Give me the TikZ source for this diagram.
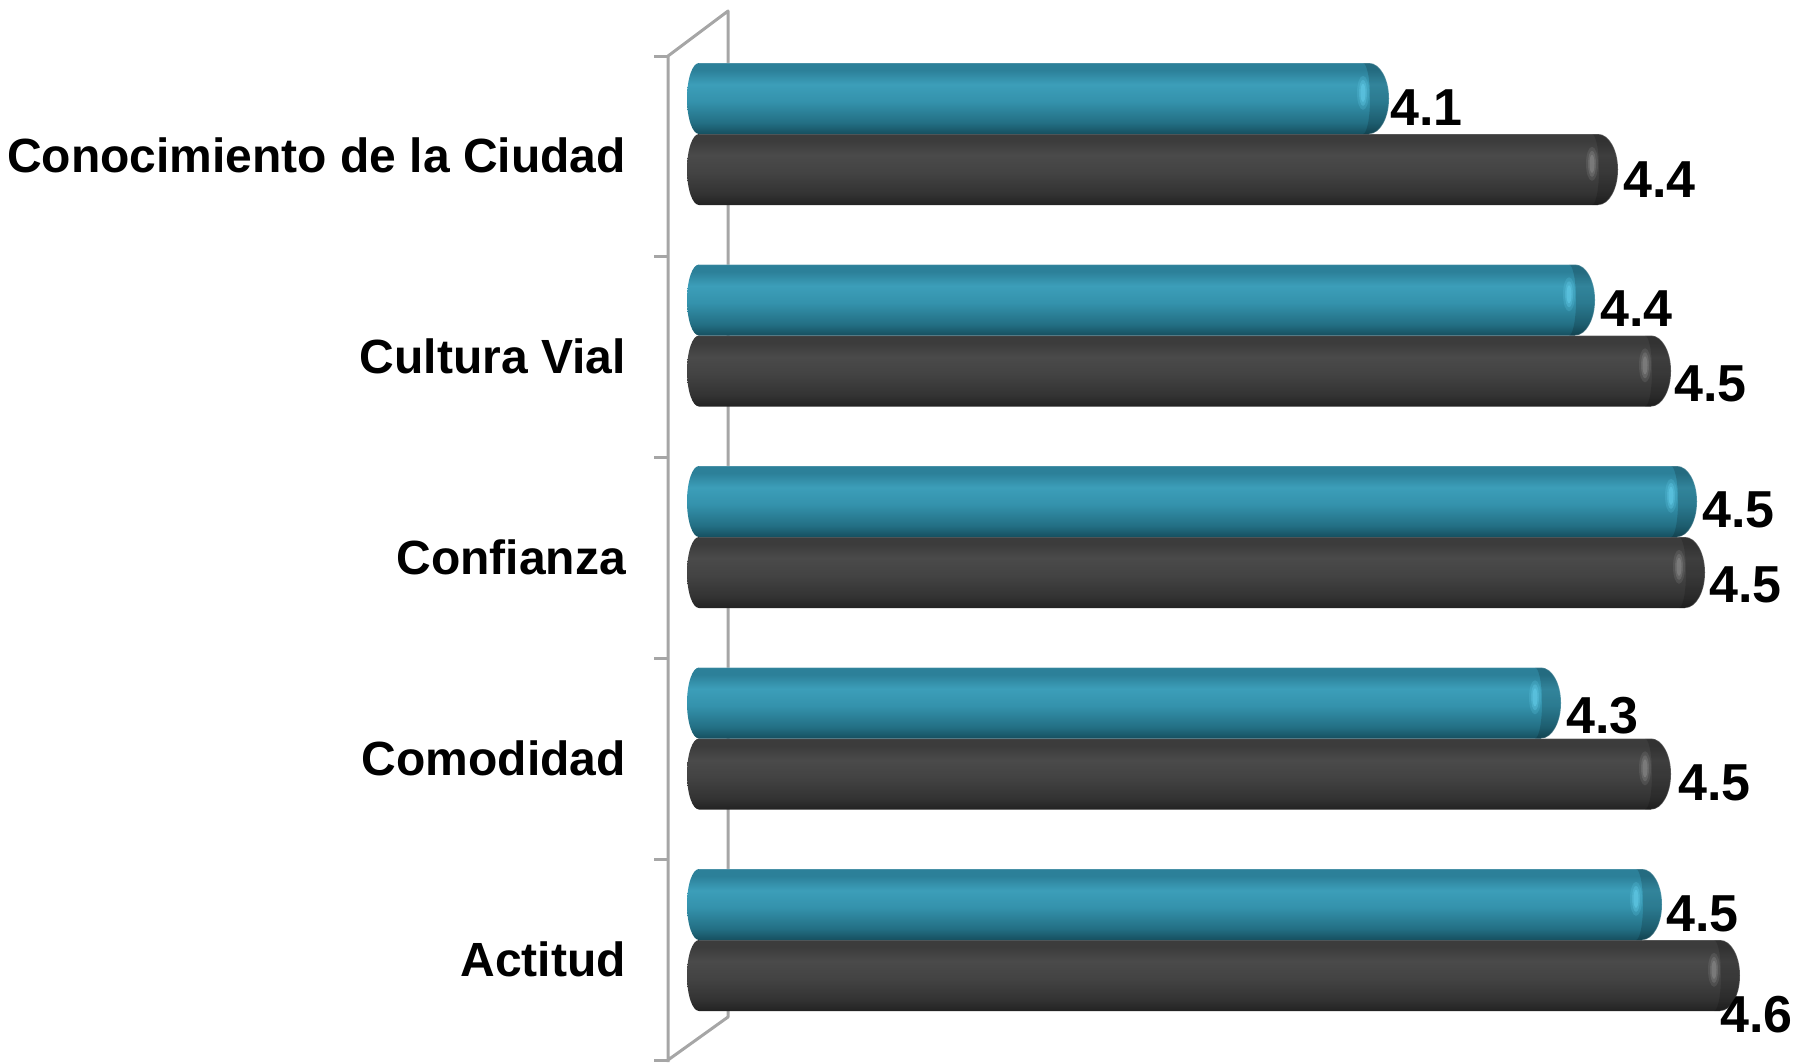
\documentclass[tikz,border=0pt]{standalone}
\usepackage{fontspec}
\setmainfont{Liberation Sans}
\definecolor{axisgray}{HTML}{A6A6A6}
\definecolor{tT}{HTML}{2C8099}
\definecolor{tL}{HTML}{3C9EB9}
\definecolor{tM}{HTML}{3492AC}
\definecolor{tD}{HTML}{236F84}
\definecolor{tB}{HTML}{164F5F}
\definecolor{tH}{HTML}{62CBE8}
\definecolor{dT}{HTML}{3C3C3C}
\definecolor{dL}{HTML}{4A4A4A}
\definecolor{dM}{HTML}{434343}
\definecolor{dD}{HTML}{333333}
\definecolor{dB}{HTML}{222222}
\definecolor{dH}{HTML}{8A8A8A}
\pgfdeclareverticalshading{tealbar}{100bp}{color(0bp)=(tB); color(25bp)=(tB); color(33bp)=(tD); color(48bp)=(tM); color(60bp)=(tL); color(70bp)=(tT); color(75bp)=(tT); color(100bp)=(tT)}
\pgfdeclareverticalshading{darkbar}{100bp}{color(0bp)=(dB); color(25bp)=(dB); color(33bp)=(dD); color(48bp)=(dM); color(60bp)=(dL); color(70bp)=(dT); color(75bp)=(dT); color(100bp)=(dT)}
\tikzset{
  axisline/.style={draw=axisgray, line width=3pt, line join=round},
  catlabel/.style={anchor=base east, inner sep=0pt, font=\fontsize{48}{50}\selectfont\bfseries},
  vallabel/.style={anchor=base west, inner sep=0pt, font=\fontsize{52}{55}\selectfont\bfseries}
}
% #1 x end, #2 top, #3 bottom, #4 shading, #5 highlight colour
\newcommand\mybar[5]{%
  \pgfmathsetmacro\hh{(#3-#2)/2}%
  \shade[shading=#4] (699,#2) -- ({#1-20},#2)
    arc[start angle=90,end angle=-90,x radius=20pt,y radius=\hh pt]
    -- (699,#3)
    arc[start angle=270,end angle=90,x radius=12pt,y radius=\hh pt] -- cycle;
  \fill[black, opacity=0.16] ({#1-26},#2) -- ({#1-20},#2)
    arc[start angle=90,end angle=-90,x radius=20pt,y radius=\hh pt]
    -- ({#1-26},#3)
    arc[start angle=-90,end angle=90,x radius=7pt,y radius=\hh pt] -- cycle;
  \draw[white, opacity=0.22, line width=1pt] (699,#2) -- ({#1-20},#2)
    arc[start angle=90,end angle=-90,x radius=20pt,y radius=\hh pt];
  \fill[#5, opacity=0.22] ({#1-26},{#2+0.42*(#3-#2)}) ellipse[x radius=6pt, y radius=17pt];
  \fill[#5, opacity=0.35] ({#1-26},{#2+0.42*(#3-#2)}) ellipse[x radius=4pt, y radius=13pt];
  \fill[#5, opacity=0.55] ({#1-26},{#2+0.42*(#3-#2)}) ellipse[x radius=2.5pt, y radius=9pt];
}
\begin{document}
\begin{tikzpicture}[x=1pt,y=-1pt]
\useasboundingbox (0,0) rectangle (1810,1063);
% axis frame
\draw[axisline] (668,1062) -- (668,56) -- (728,11) -- (728,1017) -- (668,1060);
\foreach \k in {0,...,5}{
  \draw[axisline] (654,{56+200.8*\k}) -- (668,{56+200.8*\k});
}
% bars: dark first, teal over it
\foreach \k/\te/\de in {0/1389/1618, 1/1595/1671, 2/1697/1705, 3/1561/1671, 4/1662/1740}{
  \pgfmathsetmacro\tt{63+201.5*\k}
  \pgfmathsetmacro\tb{134+201.5*\k}
  \pgfmathsetmacro\db{205+201.5*\k}
  \mybar{\de}{\tb}{\db}{darkbar}{dH}
  \mybar{\te}{\tt}{\tb}{tealbar}{tH}
}
% category labels
\node[catlabel] (c1) at (626,172) {Conocimiento de la Ciudad};
\node[catlabel] (c2) at (626,373) {Cultura Vial};
\node[catlabel] (c3) at (626,574) {Confianza};
\node[catlabel] (c4) at (626,775) {Comodidad};
\node[catlabel] (c5) at (626,976) {Actitud};
% value labels
\node[vallabel] (v1a) at (1390,125) {4.1};
\node[vallabel] (v1b) at (1623,197) {4.4};
\node[vallabel] (v2a) at (1600,326) {4.4};
\node[vallabel] (v2b) at (1674,401) {4.5};
\node[vallabel] (v3a) at (1702,527) {4.5};
\node[vallabel] (v3b) at (1709,602) {4.5};
\node[vallabel] (v4a) at (1566,733) {4.3};
\node[vallabel] (v4b) at (1678,800) {4.5};
\node[vallabel] (v5a) at (1666,931) {4.5};
\node[vallabel] (v5b) at (1720,1032) {4.6};
\end{tikzpicture}
\end{document}
